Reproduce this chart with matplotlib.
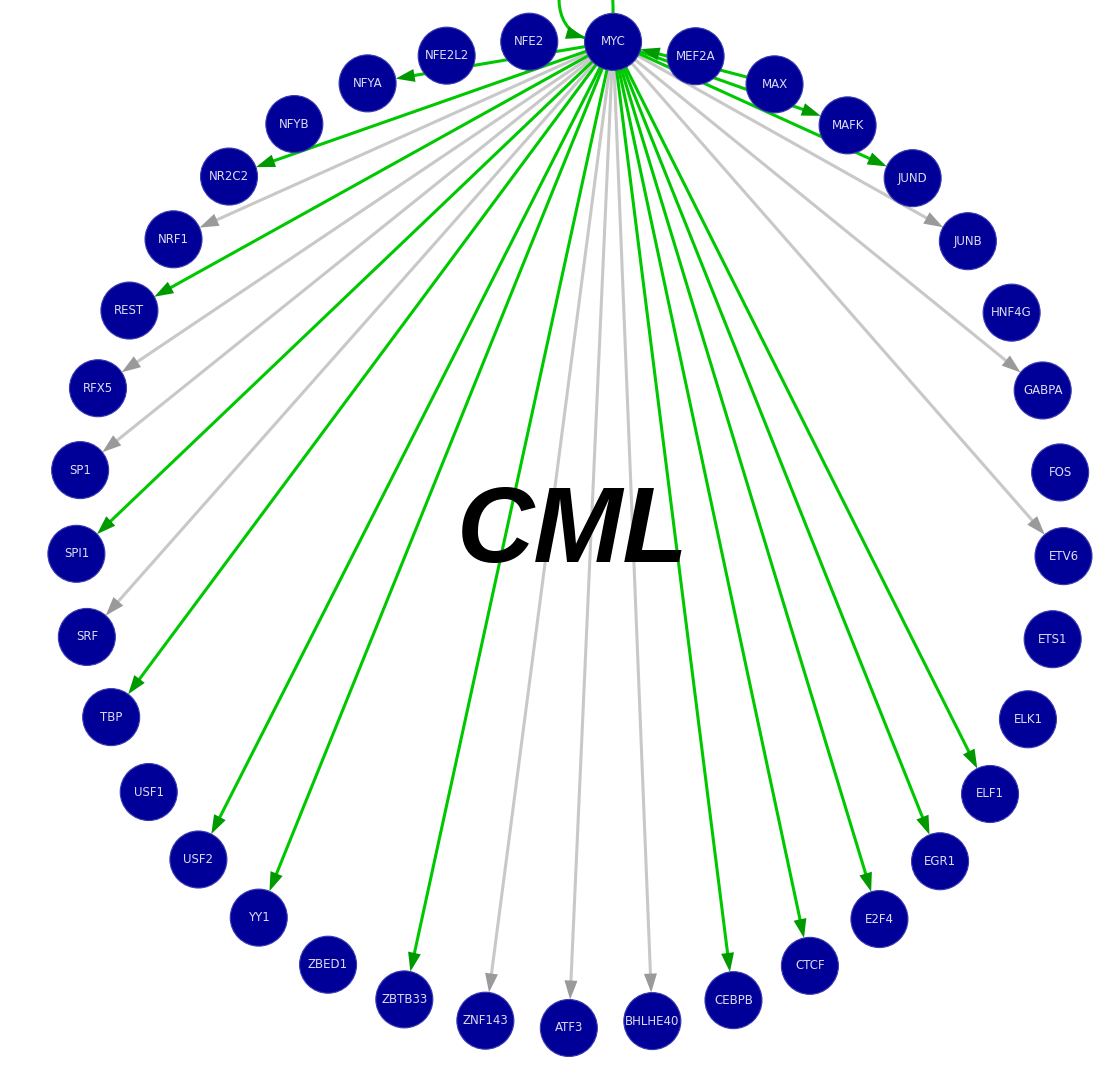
import numpy as np
import matplotlib
matplotlib.use("Agg")
import matplotlib.pyplot as plt
from matplotlib.patches import Circle, Polygon, PathPatch
from matplotlib.path import Path

# nodes, clockwise from the top of the ring
nodes = ["MYC", "MEF2A", "MAX", "MAFK", "JUND", "JUNB", "HNF4G", "GABPA", "FOS",
         "ETV6", "ETS1", "ELK1", "ELF1", "EGR1", "E2F4", "CTCF", "CEBPB", "BHLHE40",
         "ATF3", "ZNF143", "ZBTB33", "ZBED1", "YY1", "USF2", "USF1", "TBP", "SRF",
         "SPI1", "SP1", "RFX5", "REST", "NRF1", "NR2C2", "NFYB", "NFYA", "NFE2L2", "NFE2"]

hub = "MYC"
green_targets = ["MAFK", "JUND", "ELF1", "EGR1", "E2F4", "CTCF", "CEBPB", "ZBTB33",
                 "YY1", "USF2", "TBP", "SPI1", "REST", "NR2C2", "NFYA"]
gray_targets = ["JUNB", "GABPA", "ETV6", "BHLHE40", "ATF3", "ZNF143", "SRF", "SP1",
                "RFX5", "NRF1"]
green_into_hub = ["MAX"]
self_loop = True
title = "CML"

# layout (pixel space)
W, H = 1103, 1067
cx, cy, R = 570, 534, 494
node_r = 28.5
start_deg = 5.0

green_line, green_head = "#00c800", "#009a00"
gray_line, gray_head = "#c8c8c8", "#9a9a9a"
node_color = "#000099"

pos = {}
for i, n in enumerate(nodes):
    a = np.radians(start_deg + i * 360.0 / len(nodes))
    pos[n] = np.array([cx + R * np.sin(a), cy - R * np.cos(a)])

fig = plt.figure(figsize=(W / 100, H / 100), dpi=100)
ax = fig.add_axes([0, 0, 1, 1])
ax.set_xlim(0, W)
ax.set_ylim(H, 0)
ax.set_aspect("equal")
ax.axis("off")

ax.text(cx + 3, cy, title, fontsize=77, fontweight="bold", fontstyle="italic",
        family="Liberation Sans", ha="center", va="center", color="black", zorder=3)


def head(tip, u, color):
    L, w = 19, 6.5
    base = tip - u * L
    perp = np.array([-u[1], u[0]])
    ax.add_patch(Polygon([tip, base + perp * w, base - perp * w], closed=True,
                         facecolor=color, edgecolor="none", zorder=4))


def edge(src, dst, lc, hc):
    p, q = pos[src], pos[dst]
    u = (q - p) / np.linalg.norm(q - p)
    tip = q - u * node_r
    ax.plot([p[0], tip[0] - u[0] * 8], [p[1], tip[1] - u[1] * 8], color=lc, lw=2.2,
            solid_capstyle="butt", zorder=2)
    head(tip, u, hc)


for t in gray_targets:
    edge(hub, t, gray_line, gray_head)
for t in green_targets:
    edge(hub, t, green_line, green_head)
for s in green_into_hub:
    edge(s, hub, green_line, green_head)

if self_loop:
    m = pos[hub]
    p0 = m + np.array([0, -node_r])
    p3 = m + np.array([-28, -4])
    p1 = m + np.array([0, -200])
    p2 = m + np.array([-100, -25])
    path = Path([p0, p1, p2, p3], [Path.MOVETO, Path.CURVE4, Path.CURVE4, Path.CURVE4])
    ax.add_patch(PathPatch(path, facecolor="none", edgecolor=green_line, lw=2.2, zorder=2))
    u = (p3 - p2) / np.linalg.norm(p3 - p2)
    head(p3, u, green_head)

for n in nodes:
    x, y = pos[n]
    ax.add_patch(Circle((x, y), node_r, facecolor=node_color, edgecolor="#3a3ab0",
                        lw=0.8, zorder=5))
    ax.text(x, y, n, fontsize=8.5, color="#dcdcf0", ha="center", va="center",
            family="DejaVu Sans", zorder=6)

fig.savefig("out.png", dpi=100)
